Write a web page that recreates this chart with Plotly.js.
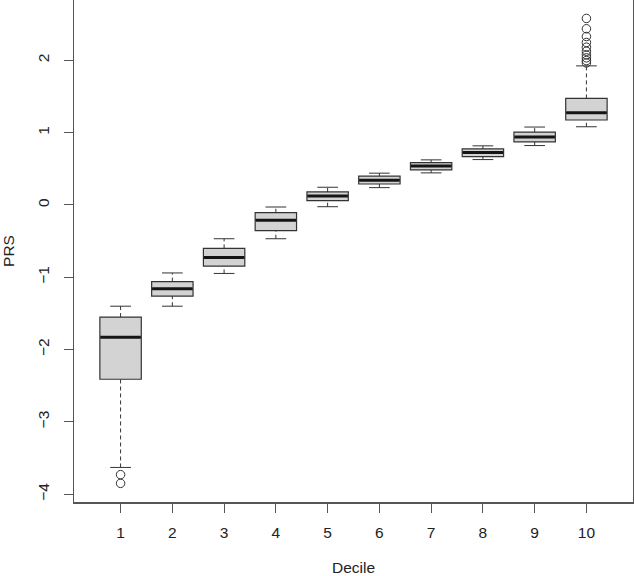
<!DOCTYPE html>
<html>
<head>
<meta charset="utf-8">
<script src="https://cdn.plot.ly/plotly-3.0.1.min.js"></script>
<style>
  body { margin: 0; padding: 0; background: #ffffff; }
  #chart { width: 634px; height: 576px; }
</style>
</head>
<body>
<div id="chart"></div>
<script>
// PRS by decile
var deciles = [1, 2, 3, 4, 5, 6, 7, 8, 9, 10];
var decileLabels = ["1", "2", "3", "4", "5", "6", "7", "8", "9", "10"];

var lowerWhisker = [-3.63, -1.40, -0.947, -0.467, -0.024, 0.24, 0.444, 0.628, 0.822, 1.082];
var q1 = [-2.41, -1.26, -0.846, -0.356, 0.06, 0.29, 0.485, 0.67, 0.874, 1.175];
var medians = [-1.83, -1.16, -0.725, -0.21, 0.125, 0.343, 0.54, 0.725, 0.94, 1.276];
var q3 = [-1.55, -1.06, -0.60, -0.107, 0.18, 0.398, 0.587, 0.777, 1.008, 1.474];
var upperWhisker = [-1.40, -0.94, -0.467, -0.028, 0.245, 0.44, 0.624, 0.818, 1.078, 1.924];

var outlierDecile = [1, 1, 10, 10, 10, 10, 10, 10, 10, 10, 10, 10];
var outlierPRS = [-3.73, -3.85, 1.965, 1.997, 2.035, 2.076, 2.126, 2.182, 2.247, 2.33, 2.437, 2.58];

var yTicks = [-4, -3, -2, -1, 0, 1, 2];

var boxW = 0.8;
var ink = "#333333";
var font = "Liberation Sans, Arial, Helvetica, sans-serif";

// whiskers (dashed), caps and medians as segment lists
var wx = [], wy = [], cx = [], cy = [], mx = [], my = [];
for (var i = 0; i < deciles.length; ++i) {
    var d = deciles[i];
    wx.push(d, d, null, d, d, null);
    wy.push(q3[i], upperWhisker[i], null, lowerWhisker[i], q1[i], null);
    cx.push(d - boxW / 4, d + boxW / 4, null, d - boxW / 4, d + boxW / 4, null);
    cy.push(upperWhisker[i], upperWhisker[i], null, lowerWhisker[i], lowerWhisker[i], null);
    mx.push(d - boxW / 2 + 0.01, d + boxW / 2 - 0.01, null);
    my.push(medians[i], medians[i], null);
}

var data = [
    {
        type: "scatter", mode: "lines", x: wx, y: wy,
        line: { color: ink, width: 1, dash: "4px,3px" },
        hoverinfo: "skip", showlegend: false
    },
    {
        type: "scatter", mode: "lines", x: cx, y: cy,
        line: { color: ink, width: 1 },
        hoverinfo: "skip", showlegend: false
    },
    {
        type: "box",
        x: deciles,
        q1: q1, median: medians, q3: q3,
        lowerfence: q1, upperfence: q3,
        width: boxW,
        whiskerwidth: 0,
        fillcolor: "#d3d3d3",
        line: { color: ink, width: 1.2 },
        boxpoints: false,
        hoverinfo: "skip", showlegend: false
    },
    {
        type: "scatter", mode: "lines", x: mx, y: my,
        line: { color: "#151515", width: 3 },
        hoverinfo: "skip", showlegend: false
    },
    {
        type: "scatter", mode: "markers", x: outlierDecile, y: outlierPRS,
        marker: { symbol: "circle-open", size: 8.5, color: ink, line: { width: 1, color: ink } },
        hoverinfo: "skip", showlegend: false
    }
];

var layout = {
    width: 634,
    height: 576,
    margin: { l: 74, r: 1, t: 0, b: 74 },
    paper_bgcolor: "#ffffff",
    plot_bgcolor: "#ffffff",
    showlegend: false,
    font: { family: font, size: 15, color: "#222222" },
    xaxis: {
        range: [0.1, 10.9],
        tickvals: deciles,
        ticktext: decileLabels,
        ticks: "outside", ticklen: 9, tickwidth: 1, tickcolor: "#555555",
        ticklabelstandoff: 7,
        showgrid: false, zeroline: false,
        showline: true, mirror: true, linecolor: "#555555", linewidth: 1.5,
        tickfont: { family: font, size: 15.5, color: "#222222" },
        title: { text: "Decile", font: { family: font, size: 15.5, color: "#222222" }, standoff: 24 },
        automargin: false
    },
    yaxis: {
        range: [-4.108, 2.835],
        tickvals: yTicks,
        ticks: "outside", ticklen: 9, tickwidth: 1, tickcolor: "#555555",
        tickangle: -90,
        ticklabelstandoff: 8,
        showgrid: false, zeroline: false,
        showline: true, mirror: true, linecolor: "#555555", linewidth: 1.5,
        tickfont: { family: font, size: 15.5, color: "#222222" },
        title: { text: "PRS", font: { family: font, size: 15.5, color: "#222222" }, standoff: 24 },
        automargin: false
    }
};

Plotly.newPlot("chart", data, layout, { staticPlot: true, displayModeBar: false });
</script>
</body>
</html>
